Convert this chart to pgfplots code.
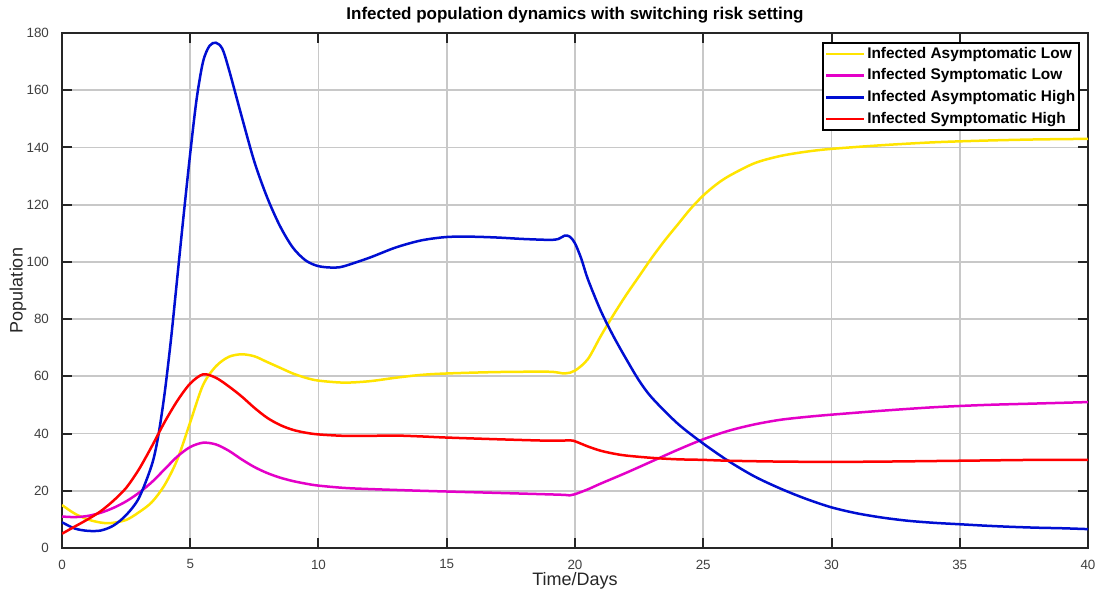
\documentclass[border=0pt]{standalone}
\usepackage{fontspec}
\setmainfont{Liberation Sans}
\usepackage{pgfplots}
\pgfplotsset{compat=1.18}
\definecolor{cY}{RGB}{255,228,0}
\definecolor{cM}{RGB}{228,0,200}
\definecolor{cB}{RGB}{0,14,210}
\definecolor{cR}{RGB}{255,0,0}
\definecolor{axc}{RGB}{38,38,38}
\definecolor{tkc}{RGB}{64,64,64}
\definecolor{grc}{RGB}{200,200,200}
\begin{document}
\begin{tikzpicture}
\useasboundingbox (-31pt,-23pt) rectangle (517.5pt,274pt);
\begin{axis}[
  scale only axis,
  width=513pt, height=257.5pt,
  at={(0pt,0pt)}, anchor=south west,
  xmin=0, xmax=40, ymin=0, ymax=180,
  xtick={0,5,...,40}, ytick={0,20,...,180},
  grid=major,
  major grid style={color=grc, line width=0.9pt},
  axis line style={color=axc, line width=1.1pt},
  tick align=inside,
  major tick length=5pt,
  tick style={color=axc, line width=1pt},
  /pgf/number format/assume math mode=true,
  ticklabel style={font=\fontsize{6.7}{7.5}\selectfont, color=tkc},
  xticklabel style={yshift=-2.3pt},
  yticklabel style={xshift=-3pt},
  xlabel={Time/Days},
  ylabel={Population},
  xlabel style={at={(rel axis cs:0.5,0)}, anchor=base, yshift=-18.5pt, font=\fontsize{9}{10}\selectfont, color=axc},
  ylabel style={at={(rel axis cs:0,0.5)}, anchor=center, yshift=22pt, font=\fontsize{9}{10}\selectfont, color=axc},
  every axis title shift=0pt,
  title={Infected population dynamics with switching risk setting},
  title style={at={(rel axis cs:0.5,1)}, anchor=base, yshift=6.5pt, font=\bfseries\fontsize{8.5}{10}\selectfont},
  legend cell align=left,
  legend image code/.code={\draw[#1] (0pt,0pt) -- (19pt,0pt);},
  legend style={at={(rel axis cs:1,1)}, anchor=north east, xshift=-4pt, yshift=-4.5pt,
    draw=black, line width=0.8pt, inner sep=1pt, row sep=1.5pt,
    font=\bfseries\fontsize{7.7}{9}\selectfont,
    nodes={inner sep=1pt, text height=5.8pt, text depth=1.5pt}},
  every axis plot/.append style={line width=1.25pt, smooth, tension=0.5},
]
\addplot[cY] coordinates {
(0,15) (0.5,12) (1,10) (1.5,8.9) (1.9,8.7) (2.5,9.8) (3,12.5) (3.5,16) (4,22) (4.5,31) (5,44) (5.5,57) (6,63.5) (6.5,66.8) (7,67.7) (7.5,67) (8,65) (8.5,63) (9,61) (9.5,59.5) (10,58.5) (11,57.8) (12,58.3) (13,59.5) (14,60.5) (15,61) (17,61.5) (19,61.6) (19.6,61) (20,62) (20.5,66) (21,74) (21.5,81.5) (22,88.5) (22.5,95) (23,101.5) (23.5,107.5) (24,113) (24.5,118.5) (25,123.2) (25.5,127) (26,130) (27,134.5) (28,137) (29,138.5) (30,139.5) (32,140.8) (34,141.8) (36,142.4) (38,142.8) (40,143)
};
\addlegendentry{Infected Asymptomatic Low}
\addplot[cM] coordinates {
(0,11) (0.5,10.8) (1,11.2) (1.5,12.3) (2,14) (2.5,16.3) (3,19.3) (3.5,23) (4,27.5) (4.5,32) (5,35.3) (5.5,36.8) (6,36.2) (6.5,34) (7,31) (7.5,28.3) (8,26.2) (8.5,24.6) (9,23.4) (9.5,22.5) (10,21.8) (11,21) (12,20.6) (14,20) (16,19.5) (18,19) (19.5,18.6) (19.8,18.4) (20,18.8) (20.5,20.5) (21,22.5) (22,26.3) (23,30.3) (24,34.3) (25,38) (26,41) (27,43.2) (28,44.8) (29,45.8) (30,46.6) (32,48) (34,49.2) (36,50) (38,50.5) (40,51)
};
\addlegendentry{Infected Symptomatic Low}
\addplot[cB] coordinates {
(0,9) (0.5,6.8) (1,6) (1.5,6.1) (2,7.8) (2.5,11.5) (3,17.5) (3.5,29) (3.75,39) (4,54) (4.25,73) (4.5,95) (4.75,117) (5,138) (5.25,157) (5.5,170) (5.75,175.5) (6,176.6) (6.25,174.5) (6.5,167.5) (7,151) (7.5,135) (8,122.5) (8.5,112.5) (9,105) (9.5,100.5) (10,98.5) (10.6,98) (11,98.5) (12,101.5) (13,105) (14,107.5) (15,108.7) (16,108.8) (17,108.5) (18,108) (19,107.7) (19.35,108) (19.6,109.2) (19.8,108.8) (20,106.5) (20.25,101) (20.5,94) (21,83) (21.5,74) (22,66) (22.5,58.5) (23,52.5) (24,43.5) (25,36.5) (26,30.3) (27,25) (28,20.8) (29,17.2) (30,14.2) (31,12.1) (32,10.6) (33,9.5) (34,8.8) (35,8.3) (36,7.8) (37,7.4) (38,7.1) (39,6.9) (40,6.6)
};
\addlegendentry{Infected Asymptomatic High}
\addplot[cR] coordinates {
(0,5) (0.5,7.5) (1,10) (1.5,12.8) (2,16.5) (2.5,21) (3,27.5) (3.5,35.5) (4,44) (4.5,51.5) (5,57.5) (5.5,60.7) (6,59.5) (6.5,56.5) (7,53) (7.5,49) (8,45.5) (8.5,43) (9,41.3) (9.5,40.3) (10,39.7) (11,39.2) (12,39.2) (13,39.3) (14,39) (15,38.6) (17,38) (19,37.5) (19.8,37.6) (20,37.3) (20.5,35.5) (21,34) (21.5,33) (22,32.3) (23,31.5) (24,31) (25,30.8) (26,30.5) (28,30.2) (30,30.1) (32,30.2) (35,30.5) (38,30.8) (40,30.8)
};
\addlegendentry{Infected Symptomatic High}
\end{axis}
\end{tikzpicture}
\end{document}
